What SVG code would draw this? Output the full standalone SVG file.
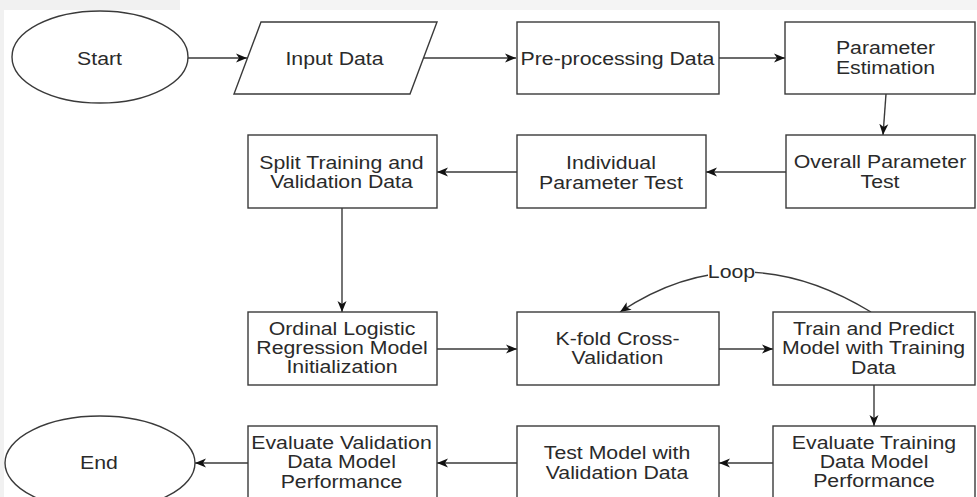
<svg xmlns="http://www.w3.org/2000/svg" width="977" height="497" viewBox="0 0 977 497">
<style>
.box{fill:#ffffff;stroke:#3a3a3a;stroke-width:1.4}
.edge{fill:none;stroke:#3a3a3a;stroke-width:1.4}
.t{font-family:"Liberation Sans",Arial,sans-serif;font-size:18.5px;fill:#2a2a2a;text-anchor:middle}
</style>
<defs>
<marker id="arr" markerUnits="userSpaceOnUse" markerWidth="12" markerHeight="10" refX="11" refY="5" orient="auto">
<path d="M0,0.5 L11,5 L0,9.5 L3,5 Z" fill="#111111"/>
</marker>
</defs>
<rect x="0" y="0" width="977" height="497" fill="#ffffff"/>
<rect x="0" y="0" width="4" height="497" fill="#f1f1f1"/>
<rect x="0" y="0" width="180" height="10" fill="#f1f1f1"/>
<rect x="300" y="0" width="677" height="10" fill="#f4f4f4"/>
<g id="connectors">
<path class="edge" marker-end="url(#arr)" d="M188,58 H247"/>
<path class="edge" marker-end="url(#arr)" d="M423,58 H516"/>
<path class="edge" marker-end="url(#arr)" d="M719,58 H785"/>
<path class="edge" marker-end="url(#arr)" d="M886,94 L883,135"/>
<path class="edge" marker-end="url(#arr)" d="M786,172 H706"/>
<path class="edge" marker-end="url(#arr)" d="M517,172 H437"/>
<path class="edge" marker-end="url(#arr)" d="M342,208 V312"/>
<path class="edge" marker-end="url(#arr)" d="M437,349 H517"/>
<path class="edge" marker-end="url(#arr)" d="M719,349 H773"/>
<path class="edge" marker-end="url(#arr)" d="M871,312 Q740,232 620,312"/>
<path class="edge" marker-end="url(#arr)" d="M874,385 V426"/>
<path class="edge" marker-end="url(#arr)" d="M773,463 H719"/>
<path class="edge" marker-end="url(#arr)" d="M517,463 H437"/>
<path class="edge" marker-end="url(#arr)" d="M248,463 H195"/>
<rect x="708" y="263" width="47" height="19" fill="#ffffff"/>
<text class="t" transform="translate(731.5,278) scale(1.15,1)">Loop</text>
</g>
<g id="start">
<ellipse class="box" cx="100" cy="57" rx="88" ry="46"/>
<text class="t" transform="translate(99.5,64.5) scale(1.15,1)">Start</text>
</g>
<g id="input-data">
<path class="box" d="M261,22 L437,22 L410,94 L234,94 Z"/>
<text class="t" transform="translate(334.5,64.5) scale(1.15,1)">Input Data</text>
</g>
<g id="preprocessing">
<rect class="box" x="517" y="22" width="202" height="72"/>
<text class="t" transform="translate(617.5,64.5) scale(1.15,1)">Pre-processing Data</text>
</g>
<g id="parameter-estimation">
<rect class="box" x="785" y="22" width="190" height="72"/>
<text class="t" transform="translate(885.5,54) scale(1.15,1)"><tspan x="0">Parameter</tspan><tspan x="0" dy="20.5">Estimation</tspan></text>
</g>
<g id="overall-test">
<rect class="box" x="786" y="135" width="189" height="73"/>
<text class="t" transform="translate(880,168) scale(1.15,1)"><tspan x="0">Overall Parameter</tspan><tspan x="0" dy="20.5">Test</tspan></text>
</g>
<g id="individual-test">
<rect class="box" x="517" y="135" width="189" height="73"/>
<text class="t" transform="translate(611,169) scale(1.15,1)"><tspan x="0">Individual</tspan><tspan x="0" dy="20">Parameter Test</tspan></text>
</g>
<g id="split">
<rect class="box" x="248" y="135" width="189" height="73"/>
<text class="t" transform="translate(341.5,169) scale(1.15,1)"><tspan x="0">Split Training and</tspan><tspan x="0" dy="19.5">Validation Data</tspan></text>
</g>
<g id="ordinal">
<rect class="box" x="248" y="312" width="189" height="73"/>
<text class="t" transform="translate(342,334.5) scale(1.15,1)"><tspan x="0">Ordinal Logistic</tspan><tspan x="0" dy="19.5">Regression Model</tspan><tspan x="0" dy="19.5">Initialization</tspan></text>
</g>
<g id="kfold">
<rect class="box" x="517" y="312" width="202" height="73"/>
<text class="t" transform="translate(617.5,345) scale(1.15,1)"><tspan x="0">K-fold Cross-</tspan><tspan x="0" dy="19.5">Validation</tspan></text>
</g>
<g id="train-predict">
<rect class="box" x="773" y="312" width="202" height="73"/>
<text class="t" transform="translate(873.5,334.5) scale(1.15,1)"><tspan x="0">Train and Predict</tspan><tspan x="0" dy="20">Model with Training</tspan><tspan x="0" dy="19.5">Data</tspan></text>
</g>
<g id="eval-training">
<rect class="box" x="773" y="426" width="202" height="85"/>
<text class="t" transform="translate(874,448.5) scale(1.15,1)"><tspan x="0">Evaluate Training</tspan><tspan x="0" dy="19.5">Data Model</tspan><tspan x="0" dy="19.5">Performance</tspan></text>
</g>
<g id="test-model">
<rect class="box" x="517" y="426" width="202" height="85"/>
<text class="t" transform="translate(617,458.5) scale(1.15,1)"><tspan x="0">Test Model with</tspan><tspan x="0" dy="20.5">Validation Data</tspan></text>
</g>
<g id="eval-validation">
<rect class="box" x="248" y="426" width="189" height="85"/>
<text class="t" transform="translate(341.5,449) scale(1.15,1)"><tspan x="0">Evaluate Validation</tspan><tspan x="0" dy="19.5">Data Model</tspan><tspan x="0" dy="19.5">Performance</tspan></text>
</g>
<g id="end">
<ellipse class="box" cx="100" cy="463" rx="95" ry="47"/>
<text class="t" transform="translate(99,468.5) scale(1.15,1)">End</text>
</g>
</svg>
